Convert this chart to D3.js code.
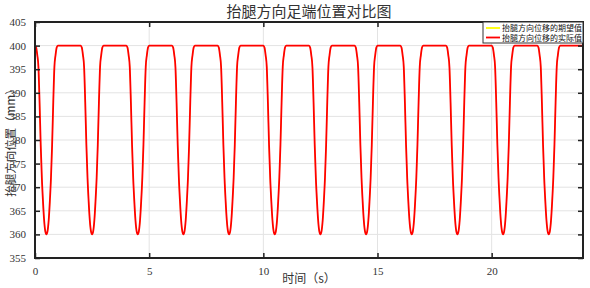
<!DOCTYPE html>
<html>
<head>
<meta charset="utf-8">
<script src="https://cdn.jsdelivr.net/npm/d3@7"></script>
<style>
  body { margin: 0; background: #fff; }
  svg text { font-family: "Noto Sans CJK SC", sans-serif; }
  .tick text { font-family: "Liberation Serif", serif; font-size: 11px; fill: #333; }
</style>
</head>
<body>
<script>
// one lift cycle: offset from cycle start (s) -> height (mm)
let dipOffsets = [0, 0.05, 0.1, 0.15, 0.2, 0.25, 0.3, 0.35, 0.4, 0.45, 0.5, 0.55, 0.6, 0.65, 0.7, 0.75, 0.8, 0.85, 0.9, 0.95, 1.0];
let dipValues = [400, 399.6, 398, 395.5, 388, 379, 372, 367, 363, 360.7, 360, 360.7, 363, 367, 372, 379, 388, 395.5, 398, 399.6, 400];
let cycleStarts = [0, 2, 4, 6, 8, 10, 12, 14, 16, 18, 20, 22];
let endTime = 24;
let xTicks = [0, 5, 10, 15, 20];
let yTicks = [355, 360, 365, 370, 375, 380, 385, 390, 395, 400, 405];
let seriesNames = ['抬腿方向位移的期望值', '抬腿方向位移的实际值'];
let seriesColors = ['#ffff00', '#ff0000'];

let width = 590, height = 288;
let margin = {top: 22, right: 7, bottom: 30, left: 35};

let svg = d3.select('body').append('svg')
  .attr('width', width)
  .attr('height', height);

let x = d3.scaleLinear().domain([0, endTime]).range([margin.left, width - margin.right]);
let y = d3.scaleLinear().domain([355, 405]).range([height - margin.bottom, margin.top]);

let points = [];
cycleStarts.forEach(s => {
  dipOffsets.forEach((o, i) => points.push([s + o, dipValues[i]]));
});
points.push([endTime, 400]);

// grid
svg.append('g').selectAll('line').data(xTicks.slice(1)).enter().append('line')
  .attr('x1', d => x(d)).attr('x2', d => x(d))
  .attr('y1', y(355)).attr('y2', y(405))
  .attr('stroke', '#e3e3e3').attr('stroke-width', 1);
svg.append('g').selectAll('line').data(yTicks.slice(1, -1)).enter().append('line')
  .attr('x1', x(0)).attr('x2', x(endTime))
  .attr('y1', d => y(d)).attr('y2', d => y(d))
  .attr('stroke', '#e3e3e3').attr('stroke-width', 1);

let line = d3.line()
  .x(d => x(d[0]))
  .y(d => y(d[1]))
  .curve(d3.curveMonotoneX);

// desired (hidden under actual)
seriesColors.forEach((c, i) => {
  svg.append('path')
    .datum(points)
    .attr('d', line)
    .attr('fill', 'none')
    .attr('stroke', c)
    .attr('stroke-width', i === 0 ? 0.8 : 1.8);
});

// axes with inward ticks
let axL = svg.append('g').attr('transform', `translate(${x(0)},0)`)
  .call(d3.axisLeft(y).tickValues(yTicks).tickSizeInner(-5).tickSizeOuter(0).tickPadding(9));
let axB = svg.append('g').attr('transform', `translate(0,${y(355)})`)
  .call(d3.axisBottom(x).tickValues(xTicks).tickSizeInner(-5).tickSizeOuter(0).tickPadding(9));
let axR = svg.append('g').attr('transform', `translate(${x(endTime)},0)`)
  .call(d3.axisRight(y).tickValues(yTicks).tickSizeInner(-5).tickSizeOuter(0).tickFormat(''));
let axT = svg.append('g').attr('transform', `translate(0,${y(405)})`)
  .call(d3.axisTop(x).tickValues(xTicks).tickSizeInner(-5).tickSizeOuter(0).tickFormat(''));
[axL, axB, axR, axT].forEach(a => {
  a.select('.domain').remove();
  a.selectAll('.tick line').attr('stroke', '#222').attr('stroke-width', 1.5);
});

svg.append('rect')
  .attr('x', x(0)).attr('y', y(405))
  .attr('width', x(endTime) - x(0)).attr('height', y(355) - y(405))
  .attr('fill', 'none').attr('stroke', '#222').attr('stroke-width', 2);

// labels
svg.append('text')
  .attr('x', (x(0) + x(endTime)) / 2).attr('y', 17)
  .attr('text-anchor', 'middle').attr('font-size', 15).attr('fill', '#333')
  .text('抬腿方向足端位置对比图');
svg.append('text')
  .attr('x', (x(0) + x(endTime)) / 2).attr('y', 283)
  .attr('text-anchor', 'middle').attr('font-size', 12).attr('fill', '#333')
  .text('时间（s）');
svg.append('text')
  .attr('transform', `translate(15,${(y(355) + y(405)) / 2}) rotate(-90)`)
  .attr('text-anchor', 'middle').attr('font-size', 11.5).attr('fill', '#333')
  .text('抬腿方向位置（mm）');

// legend
let lg = svg.append('g');
lg.append('rect')
  .attr('x', 483).attr('y', y(405))
  .attr('width', x(endTime) - 483).attr('height', 21)
  .attr('fill', '#fff').attr('stroke', '#333').attr('stroke-width', 1);
seriesNames.forEach((n, i) => {
  let yy = y(405) + 6 + i * 9.5;
  lg.append('line')
    .attr('x1', 486).attr('x2', 500).attr('y1', yy).attr('y2', yy)
    .attr('stroke', seriesColors[i]).attr('stroke-width', 1.8);
  lg.append('text')
    .attr('x', 502).attr('y', yy + 3)
    .attr('font-size', 8).attr('fill', '#111')
    .text(n);
});
</script>
</body>
</html>
